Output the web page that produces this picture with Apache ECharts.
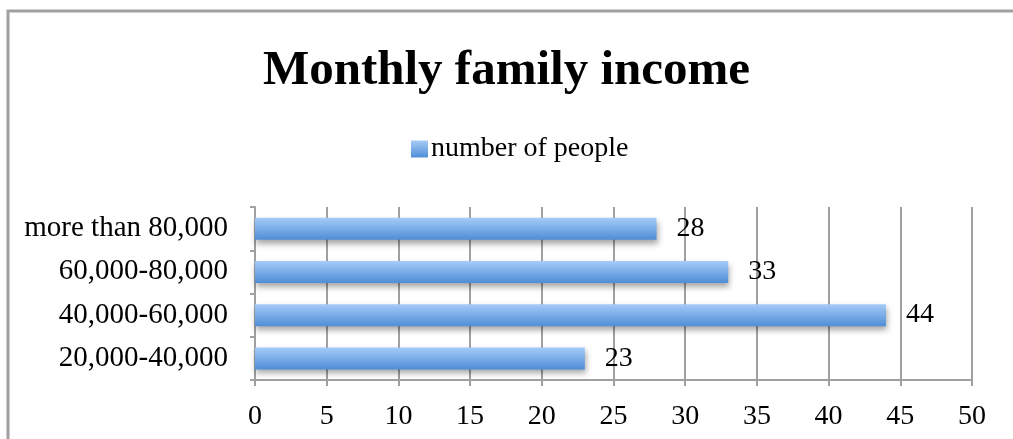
<!DOCTYPE html>
<html>
<head>
<meta charset="utf-8">
<script src="https://cdn.jsdelivr.net/npm/echarts@6/dist/echarts.min.js"></script>
<style>
  html, body { margin: 0; padding: 0; background: #fff; }
  #main { width: 1013px; height: 439px; }
</style>
</head>
<body>
<div id="main"></div>
<script>
// 数据
var categories = ['20,000-40,000', '40,000-60,000', '60,000-80,000', 'more than 80,000']
var people = [23, 44, 33, 28]
var seriesName = 'number of people'
var xTicks = { min: 0, max: 50, interval: 5 }

var font = '"Liberation Serif", "DejaVu Serif", serif'
var grey = '#a0a0a0'

var barColor = new echarts.graphic.LinearGradient(0, 0, 0, 1, [
  { offset: 0, color: '#a6cbf8' },
  { offset: 1, color: '#4f8ed7' }
])

var myChart = echarts.init(document.getElementById('main'))

var options = {
  backgroundColor: '#fff',
  animation: false,
  title: {
    text: 'Monthly family income',
    left: 'center',
    top: 42,
    textStyle: { fontFamily: font, fontSize: 49, fontWeight: 'bold', color: '#000' }
  },
  legend: {
    data: [seriesName],
    left: 406,
    top: 130,
    icon: 'rect',
    itemWidth: 17,
    itemHeight: 17,
    itemGap: 6,
    textStyle: { fontFamily: font, fontSize: 28, color: '#000', padding: [0, 0, 0, -2] }
  },
  grid: {
    left: 255,
    right: 41,
    top: 207,
    bottom: 59,
    containLabel: false
  },
  xAxis: {
    type: 'value',
    min: xTicks.min,
    max: xTicks.max,
    interval: xTicks.interval,
    axisLine: { show: true, lineStyle: { color: grey, width: 2 } },
    axisTick: { show: true, length: 6, lineStyle: { color: grey, width: 2 } },
    splitLine: { show: true, lineStyle: { color: grey, width: 2 } },
    axisLabel: { margin: 23, fontFamily: font, fontSize: 28, color: '#000' }
  },
  yAxis: {
    type: 'category',
    data: categories,
    axisLine: { show: true, lineStyle: { color: grey, width: 2 } },
    axisTick: { show: true, length: 5, lineStyle: { color: grey, width: 2 } },
    axisLabel: { margin: 27, fontFamily: font, fontSize: 29, color: '#000' }
  },
  series: [
    {
      name: seriesName,
      type: 'bar',
      data: people,
      barWidth: 22,
      itemStyle: {
        color: barColor,
        shadowColor: 'rgba(0,0,0,0.35)',
        shadowBlur: 6,
        shadowOffsetY: 4,
        shadowOffsetX: 1
      },
      label: {
        show: true,
        position: 'right',
        distance: 20,
        fontFamily: font,
        fontSize: 28,
        color: '#000'
      }
    }
  ],
  graphic: [
    {
      type: 'polyline',
      shape: { points: [[8, 445], [8, 11], [1020, 11]] },
      style: { stroke: '#a0a0a0', lineWidth: 3, fill: null },
      silent: true
    }
  ]
}

myChart.setOption(options)
</script>
</body>
</html>
